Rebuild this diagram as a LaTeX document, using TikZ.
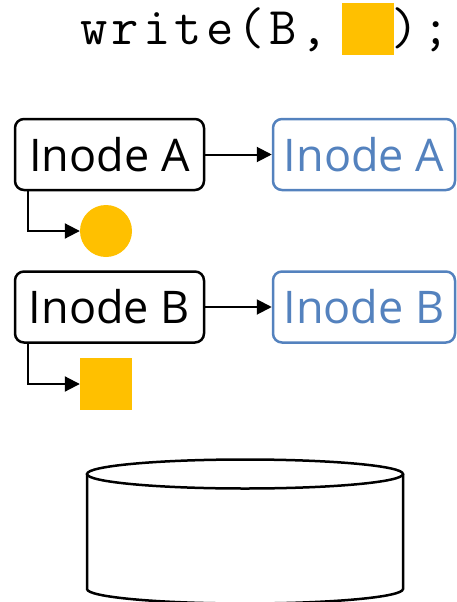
\documentclass[tikz,border=0pt]{standalone}
\usepackage{fontspec}
\newfontfamily\inodefont{Open Sans}
\newfontfamily\codefont[LetterSpace=7.9]{Latin Modern Mono}
\usetikzlibrary{arrows.meta}
\definecolor{gold}{RGB}{255,192,0}
\definecolor{inblue}{RGB}{84,130,190}
\tikzset{
  inodebox/.style={draw=black, line width=2.5pt, rounded corners=9pt, minimum width=189pt, minimum height=71pt, inner sep=0pt, font=\inodefont\fontsize{45}{48}\selectfont},
  bluebox/.style={inodebox, draw=inblue, text=inblue, minimum width=182pt},
  arr/.style={line width=2pt, -{Triangle[length=15pt,width=15pt]}},
  codetext/.style={inner sep=0pt, anchor=base west, font=\codefont\fontsize{53}{56}\selectfont},
  goldsq/.style={fill=gold, draw=none, minimum size=52pt, inner sep=0pt},
  goldci/.style={fill=gold, draw=none, circle, minimum size=52pt, inner sep=0pt}
}
\begin{document}
\begin{tikzpicture}[x=1pt,y=-1pt]
\useasboundingbox (0,0) rectangle (457,602);
\clip (0,0) rectangle (457,602);
% code line
\node[codetext] (code1) at (80,45) {write(B,};
\node[goldsq] (topsq) at (368,29) {};
\node[codetext] (code2) at (391,45) {);};
% inode A
\node[inodebox] (a) at (109.5,154.5) {Inode A};
\node[bluebox] (ba) at (364,154.5) {Inode A};
\draw[arr] (a.east) -- (ba.west);
\node[goldci] (ca) at (106,231) {};
\draw[arr] ([xshift=14pt]a.south west) |- (ca.west);
% inode B
\node[inodebox] (b) at (109.5,307) {Inode B};
\node[bluebox] (bb) at (364,307) {Inode B};
\draw[arr] (b.east) -- (bb.west);
\node[goldsq] (sb) at (106,384) {};
\draw[arr] ([xshift=14pt]b.south west) |- (sb.west);
% disk
\draw[line width=2.5pt, fill=white] (87,474) -- (87,589) arc[start angle=180, end angle=360, x radius=158pt, y radius=14.5pt] -- (403,474);
\draw[line width=2.5pt] (245,474) ellipse [x radius=158pt, y radius=14.5pt];
\end{tikzpicture}
\end{document}
